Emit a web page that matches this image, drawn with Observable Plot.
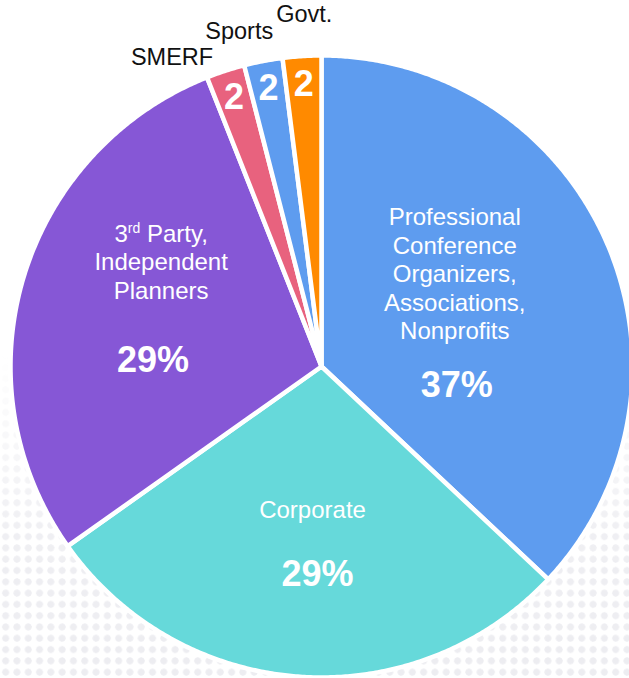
<!DOCTYPE html>
<html>
<head>
<meta charset="utf-8">
<script src="https://cdn.jsdelivr.net/npm/d3@7"></script>
<script src="https://cdn.jsdelivr.net/npm/@observablehq/plot@0.6"></script>
<style>
  html, body { margin: 0; padding: 0; background: #fff; }
  #wrap { position: relative; width: 629px; height: 678px; overflow: hidden; }
  #dots {
    position: absolute; left: 0; top: 0; width: 629px; height: 678px;
    background-image: radial-gradient(circle, #ededf1 3.2px, rgba(255,255,255,0) 3.8px);
    background-size: 11.3px 11.3px;
    -webkit-mask-image: linear-gradient(to bottom, rgba(0,0,0,0) 52%, rgba(0,0,0,0.9) 80%, rgba(0,0,0,1) 100%);
    mask-image: linear-gradient(to bottom, rgba(0,0,0,0) 52%, rgba(0,0,0,0.9) 80%, rgba(0,0,0,1) 100%);
  }
  #chart { position: absolute; left: 0; top: 0; }
</style>
</head>
<body>
<div id="wrap"><div id="dots"></div><div id="chart"></div></div>
<script>
// ---- data ----
const categories = ["Professional Conference Organizers, Associations, Nonprofits", "Corporate", "3rd Party, Independent Planners", "SMERF", "Sports", "Govt."];
const shares = [37, 28.2, 28.8, 2, 2, 2];
const valueLabels = ["37%", "29%", "29%", "2", "2", "2"];
const nameLabels = ["Professional\nConference\nOrganizers,\nAssociations,\nNonprofits", "Corporate", "3rd Party,\nIndependent\nPlanners", "SMERF", "Sports", "Govt."];
const colors = ["#5e9cef", "#66d9da", "#8657d6", "#e8627e", "#5e9cef", "#ff8a00"];

// ---- layout (polar label placement: radius fraction, angle in degrees clockwise from top; null = slice middle) ----
const nameLayout = [
  {r: 0.523, a: 55.0, inside: true},
  {r: 0.459, a: 183.6, inside: true},
  {r: 0.617, a: 303.3, inside: true},
  {r: 1.104, a: 334.2, inside: false},
  {r: 1.109, a: 346.2, inside: false},
  {r: 1.133, a: 357.2, inside: false}
];
const valueLayout = [
  {r: 0.439, a: 98.0, big: true},
  {r: 0.668, a: 181.1, big: true},
  {r: 0.542, a: 272.0, big: true},
  {r: 0.91, a: null, big: false},
  {r: 0.91, a: null, big: false},
  {r: 0.91, a: null, big: false}
];

const W = 629, H = 678, CX = 321, CY = 366, R = 311;

const pie = d3.pie().sort(null).value(d => d)(shares);
const deg = Math.PI / 180;
const polar = (r, ang) => ({x: r * Math.sin(ang), y: r * Math.cos(ang)});

// slice outlines in pie units
const slicePts = [];
pie.forEach((p, i) => {
  const name = categories[i];
  slicePts.push({name, ...polar(0, 0)});
  const n = Math.max(4, Math.ceil((p.endAngle - p.startAngle) / (0.4 * deg)));
  for (let k = 0; k <= n; k++) {
    const ang = p.startAngle + (p.endAngle - p.startAngle) * k / n;
    slicePts.push({name, ...polar(1, ang)});
  }
});

const names = nameLabels.map((t, i) => {
  const L = nameLayout[i];
  return {text: t, inside: L.inside, ...polar(L.r, L.a * deg)};
});
const values = valueLabels.map((t, i) => {
  const L = valueLayout[i];
  const ang = L.a == null ? (pie[i].startAngle + pie[i].endAngle) / 2 : L.a * deg;
  return {text: t, big: L.big, ...polar(L.r, ang)};
});

const font = "'Liberation Sans', Arial, Helvetica, sans-serif";

const chart = Plot.plot({
  width: W, height: H,
  margin: 0,
  style: {background: "transparent", fontFamily: font, overflow: "visible"},
  x: {domain: [-CX / R, (W - CX) / R], axis: null},
  y: {domain: [-(H - CY) / R, CY / R], axis: null},
  color: {domain: categories, range: colors},
  marks: [
    Plot.line(slicePts, {x: "x", y: "y", z: "name", fill: "name", stroke: "white", strokeWidth: 4.5, strokeLinejoin: "round", curve: "linear-closed"}),
    Plot.text(names.filter(d => d.inside), {x: "x", y: "y", text: "text", fill: "white", fontSize: 24, lineHeight: 1.19, lineAnchor: "middle"}),
    Plot.text(names.filter(d => !d.inside), {x: "x", y: "y", text: "text", fill: "#111", fontSize: 23.5, lineAnchor: "middle"}),
    Plot.text(values.filter(d => d.big), {x: "x", y: "y", text: "text", fill: "white", fontSize: 36, fontWeight: "bold"}),
    Plot.text(values.filter(d => !d.big), {x: "x", y: "y", text: "text", fill: "white", fontSize: 36, fontWeight: "bold"})
  ]
});

document.getElementById("chart").appendChild(chart);

// superscript "rd" in "3rd Party,"
d3.select(chart).selectAll("tspan").each(function() {
  if (this.textContent === "3rd Party,") {
    const t = d3.select(this);
    t.text("3");
    t.append("tspan").attr("font-size", 14).attr("dy", -9).text("rd");
    t.append("tspan").attr("dy", 9).text(" Party,");
  }
});
</script>
</body>
</html>
